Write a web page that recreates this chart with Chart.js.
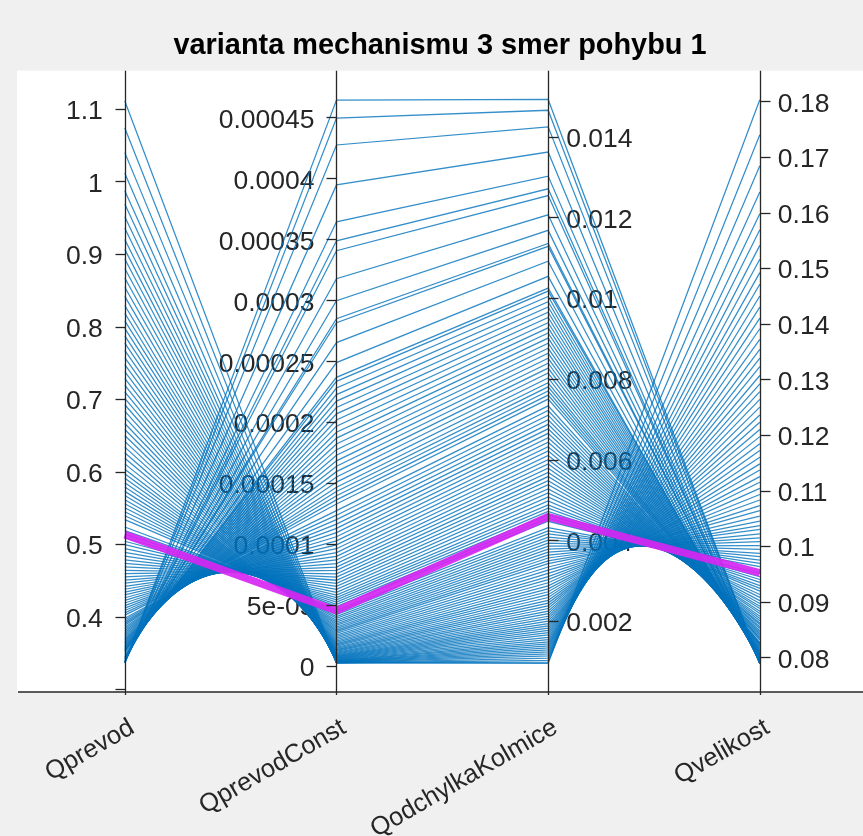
<!DOCTYPE html>
<html>
<head>
<meta charset="utf-8">
<title>varianta mechanismu 3 smer pohybu 1</title>
<style>
  html, body { margin: 0; padding: 0; background: #f0f0f0; }
  canvas { display: block; }
</style>
<script src="https://cdn.jsdelivr.net/npm/chart.js@4.4.1/dist/chart.umd.min.js"></script>
</head>
<body>
<canvas id="chart" width="863" height="836"></canvas>
<script>
// Coordinate (axis) names, left to right
const coordinateNames = ['Qprevod', 'QprevodConst', 'QodchylkaKolmice', 'Qvelikost'];

// One entry per solution; the same index in every array is one polyline
const qPrevod = [
  1.111, 1.0739, 1.0398, 1.0113, 0.9873, 0.9691, 0.9513, 0.9355, 0.9200, 0.9064,
  0.8931, 0.8799, 0.8669, 0.8541, 0.8415, 0.8290, 0.8183, 0.8078, 0.7974, 0.7871,
  0.7770, 0.7670, 0.7571, 0.7474, 0.7378, 0.7284, 0.7191, 0.7100, 0.7010, 0.6921,
  0.6833, 0.6747, 0.6662, 0.6579, 0.6497, 0.6416, 0.6337, 0.6258, 0.6182, 0.6106,
  0.6032, 0.5969, 0.5907, 0.5846, 0.5786, 0.5727, 0.5669, 0.5612, 0.5555, 0.5500,
  0.5445, 0.5391, 0.5338, 0.5235, 0.5185, 0.5135, 0.5087, 0.5039, 0.4992, 0.4938,
  0.4885, 0.4834, 0.4783, 0.4734, 0.4686, 0.4638, 0.4592, 0.4547, 0.4503, 0.4460,
  0.4418, 0.4377, 0.4337, 0.4298, 0.4260, 0.4223, 0.4187, 0.4151, 0.4117, 0.4084,
  0.4052, 0.4020, 0.3977, 0.3952, 0.3927, 0.3903, 0.3880, 0.3854, 0.3828, 0.3804,
  0.3780, 0.3757, 0.3734, 0.3713, 0.3692, 0.3673, 0.3653, 0.3635, 0.3617, 0.3600,
  0.3584, 0.3569, 0.3554, 0.3540, 0.3526, 0.3519, 0.3493, 0.3463, 0.3439, 0.3435,
  0.3417, 0.3401, 0.3385, 0.3380, 0.3373, 0.3365, 0.3361, 0.3360, 0.3360
];

const qPrevodConst = [
  2.50e-6, 2.51e-6, 2.57e-6, 2.68e-6, 2.84e-6, 2.99e-6, 3.19e-6, 3.40e-6, 3.64e-6, 3.89e-6,
  4.18e-6, 4.49e-6, 4.84e-6, 5.23e-6, 5.65e-6, 6.11e-6, 6.55e-6, 7.01e-6, 7.51e-6, 8.04e-6,
  8.61e-6, 9.21e-6, 9.85e-6, 1.052e-5, 1.123e-5, 1.197e-5, 1.275e-5, 1.358e-5, 1.444e-5, 1.534e-5,
  1.629e-5, 1.728e-5, 1.831e-5, 1.938e-5, 2.049e-5, 2.165e-5, 2.286e-5, 2.411e-5, 2.541e-5, 2.676e-5,
  2.816e-5, 2.939e-5, 3.066e-5, 3.197e-5, 3.331e-5, 3.469e-5, 3.611e-5, 3.756e-5, 3.906e-5, 4.060e-5,
  4.217e-5, 4.378e-5, 4.543e-5, 4.886e-5, 5.063e-5, 5.245e-5, 5.431e-5, 5.621e-5, 5.815e-5, 6.047e-5,
  6.285e-5, 6.529e-5, 6.779e-5, 7.036e-5, 7.297e-5, 7.566e-5, 7.840e-5, 8.120e-5, 8.408e-5, 8.701e-5,
  9.001e-5, 9.308e-5, 9.621e-5, 9.941e-5, 1.0268e-4, 1.0601e-4, 1.0941e-4, 1.1288e-4, 1.1642e-4, 1.2003e-4,
  1.2371e-4, 1.2746e-4, 1.3293e-4, 1.3630e-4, 1.3970e-4, 1.4317e-4, 1.4669e-4, 1.5086e-4, 1.5510e-4, 1.5942e-4,
  1.6381e-4, 1.6829e-4, 1.7284e-4, 1.7746e-4, 1.8216e-4, 1.8694e-4, 1.9179e-4, 1.9673e-4, 2.0174e-4, 2.0683e-4,
  2.1200e-4, 2.1726e-4, 2.2259e-4, 2.2801e-4, 2.3350e-4, 2.3677e-4, 2.4887e-4, 2.6525e-4, 2.8162e-4, 2.8490e-4,
  2.9966e-4, 3.1765e-4, 3.4059e-4, 3.4877e-4, 3.6431e-4, 3.9461e-4, 4.2735e-4, 4.4946e-4, 4.6417e-4
];

const qOdchylkaKolmice = [
  0.000950, 0.000976, 0.001024, 0.001078, 0.001133, 0.001180, 0.001231, 0.001280, 0.001331, 0.001380,
  0.001430, 0.001482, 0.001537, 0.001593, 0.001651, 0.001711, 0.001765, 0.001820, 0.001877, 0.001934,
  0.001993, 0.002054, 0.002115, 0.002178, 0.002242, 0.002307, 0.002374, 0.002441, 0.002510, 0.002579,
  0.002650, 0.002722, 0.002795, 0.002869, 0.002945, 0.003021, 0.003098, 0.003176, 0.003256, 0.003336,
  0.003417, 0.003488, 0.003559, 0.003631, 0.003704, 0.003777, 0.003851, 0.003926, 0.004001, 0.004078,
  0.004154, 0.004232, 0.004310, 0.004469, 0.004549, 0.004630, 0.004712, 0.004794, 0.004876, 0.004974,
  0.005072, 0.005171, 0.005272, 0.005373, 0.005474, 0.005577, 0.005680, 0.005784, 0.005890, 0.005995,
  0.006102, 0.006210, 0.006318, 0.006428, 0.006538, 0.006649, 0.006760, 0.006872, 0.006986, 0.007099,
  0.007214, 0.007330, 0.007496, 0.007597, 0.007698, 0.007800, 0.007902, 0.008022, 0.008143, 0.008264,
  0.008386, 0.008509, 0.008633, 0.008757, 0.008883, 0.009008, 0.009135, 0.009262, 0.009390, 0.009519,
  0.009649, 0.009779, 0.009910, 0.010041, 0.010174, 0.010249, 0.010538, 0.010914, 0.011283, 0.011356,
  0.011679, 0.012064, 0.012542, 0.012710, 0.013024, 0.013621, 0.014245, 0.014656, 0.014925
];

const qVelikost = [
  0.1803, 0.1740, 0.1684, 0.1637, 0.1598, 0.1569, 0.1541, 0.1516, 0.1492, 0.1471,
  0.1450, 0.1430, 0.1410, 0.1391, 0.1372, 0.1354, 0.1338, 0.1323, 0.1307, 0.1292,
  0.1278, 0.1264, 0.1250, 0.1236, 0.1223, 0.1210, 0.1197, 0.1184, 0.1172, 0.1160,
  0.1148, 0.1137, 0.1125, 0.1115, 0.1104, 0.1093, 0.1083, 0.1073, 0.1064, 0.1054,
  0.1045, 0.1037, 0.1030, 0.1022, 0.1015, 0.1008, 0.1001, 0.0994, 0.0987, 0.0981,
  0.0975, 0.0969, 0.0963, 0.0951, 0.0945, 0.0940, 0.0935, 0.0929, 0.0924, 0.0919,
  0.0913, 0.0908, 0.0902, 0.0897, 0.0892, 0.0888, 0.0883, 0.0879, 0.0874, 0.0870,
  0.0866, 0.0862, 0.0859, 0.0855, 0.0852, 0.0848, 0.0845, 0.0842, 0.0839, 0.0836,
  0.0834, 0.0831, 0.0827, 0.0825, 0.0824, 0.0822, 0.0820, 0.0818, 0.0816, 0.0814,
  0.0812, 0.0811, 0.0809, 0.0808, 0.0806, 0.0805, 0.0804, 0.0803, 0.0801, 0.0800,
  0.0799, 0.0799, 0.0798, 0.0797, 0.0796, 0.0796, 0.0794, 0.0793, 0.0792, 0.0792,
  0.0791, 0.0790, 0.0790, 0.0789, 0.0789, 0.0789, 0.0789, 0.0789, 0.0789
];

// The selected solution, drawn on top in magenta
const selectedSolution = [0.513, 4.53e-5, 0.00458, 0.0952];

// Tick values and their labels for each coordinate
const ticksPrevod = [0.3, 0.4, 0.5, 0.6, 0.7, 0.8, 0.9, 1.0, 1.1];
const tickLabelsPrevod = ['', '0.4', '0.5', '0.6', '0.7', '0.8', '0.9', '1', '1.1'];
const ticksPrevodConst = [0, 5e-5, 1e-4, 1.5e-4, 2e-4, 2.5e-4, 3e-4, 3.5e-4, 4e-4, 4.5e-4];
const tickLabelsPrevodConst = ['0', '5e-05', '0.0001', '0.00015', '0.0002', '0.00025', '0.0003', '0.00035', '0.0004', '0.00045'];
const ticksOdchylka = [0.002, 0.004, 0.006, 0.008, 0.01, 0.012, 0.014];
const tickLabelsOdchylka = ['0.002', '0.004', '0.006', '0.008', '0.01', '0.012', '0.014'];
const ticksVelikost = [0.08, 0.09, 0.10, 0.11, 0.12, 0.13, 0.14, 0.15, 0.16, 0.17, 0.18];
const tickLabelsVelikost = ['0.08', '0.09', '0.1', '0.11', '0.12', '0.13', '0.14', '0.15', '0.16', '0.17', '0.18'];

// One vertical scale per coordinate
const coordinateAxes = [
  { id: 'yPrevod',      min: 0.2960,    max: 1.1528,    ticks: ticksPrevod,      labels: tickLabelsPrevod,      side: 'left'  },
  { id: 'yPrevodConst', min: -2.130e-5, max: 4.8828e-4, ticks: ticksPrevodConst, labels: tickLabelsPrevodConst, side: 'left'  },
  { id: 'yOdchylka',    min: 0.0002377, max: 0.015637,  ticks: ticksOdchylka,    labels: tickLabelsOdchylka,    side: 'right' },
  { id: 'yVelikost',    min: 0.07377,   max: 0.18552,   ticks: ticksVelikost,    labels: tickLabelsVelikost,    side: 'right' }
];

const columns = [qPrevod, qPrevodConst, qOdchylkaKolmice, qVelikost];

// Every coordinate is drawn on a shared 0..1 scale, aligned with its own axis range
function toUnit(value, k) {
  const a = coordinateAxes[k];
  return (value - a.min) / (a.max - a.min);
}

const datasets = [];
for (let i = 0; i < qPrevod.length; i++) {
  datasets.push({
    data: columns.map((col, k) => ({ x: k, y: toUnit(col[i], k) })),
    borderColor: 'rgba(0, 114, 189, 0.8)',
    borderWidth: 1.25,
    pointRadius: 0,
    yAxisID: 'yUnit',
    order: 1
  });
}
datasets.push({
  data: selectedSolution.map((v, k) => ({ x: k, y: toUnit(v, k) })),
  borderColor: 'rgba(214, 38, 242, 0.92)',
  borderWidth: 7.5,
  pointRadius: 0,
  yAxisID: 'yUnit',
  order: 0
});

const AXIS_COLOR = '#262626';
const FONT_FAMILY = '"Liberation Sans", Arial, Helvetica, sans-serif';

const parallelAxes = {
  id: 'parallelAxes',
  beforeDraw(chart) {
    const { ctx, chartArea: ca } = chart;
    ctx.save();
    ctx.fillStyle = '#f0f0f0';
    ctx.fillRect(0, 0, chart.width, chart.height);
    ctx.fillStyle = '#ffffff';
    ctx.fillRect(ca.left, ca.top, ca.right - ca.left, ca.bottom - ca.top);
    ctx.restore();
  },
  beforeDatasetsDraw(chart) {
    const { ctx } = chart;
    const xScale = chart.scales.x;
    ctx.save();
    ctx.font = '26.5px ' + FONT_FAMILY;
    ctx.fillStyle = AXIS_COLOR;
    ctx.textBaseline = 'middle';
    coordinateAxes.forEach((a, k) => {
      const scale = chart.scales[a.id];
      const ax = xScale.getPixelForValue(k);
      ctx.textAlign = a.side === 'left' ? 'right' : 'left';
      const lx = a.side === 'left' ? ax - 22 : ax + 18;
      a.ticks.forEach((t, j) => {
        if (!a.labels[j]) return;
        ctx.fillText(a.labels[j], lx, scale.getPixelForValue(t) + 3);
      });
    });
    ctx.restore();
  },
  afterDatasetsDraw(chart) {
    const { ctx, chartArea: ca } = chart;
    const xScale = chart.scales.x;
    ctx.save();
    ctx.strokeStyle = AXIS_COLOR;
    ctx.lineWidth = 1.3;
    // bottom edge of the axes box
    ctx.beginPath();
    ctx.moveTo(ca.left + 1, ca.bottom);
    ctx.lineTo(ca.right, ca.bottom);
    ctx.stroke();
    coordinateAxes.forEach((a, k) => {
      const scale = chart.scales[a.id];
      const ax = Math.round(xScale.getPixelForValue(k)) + 0.5;
      ctx.beginPath();
      ctx.moveTo(ax, ca.top);
      ctx.lineTo(ax, ca.bottom + 3);
      ctx.stroke();
      const dir = a.side === 'left' ? -1 : 1;
      a.ticks.forEach((t) => {
        const y = Math.round(scale.getPixelForValue(t)) + 0.5;
        ctx.beginPath();
        ctx.moveTo(ax, y);
        ctx.lineTo(ax + dir * 10, y);
        ctx.stroke();
      });
    });
    // rotated coordinate names under the axes
    ctx.font = '25.5px ' + FONT_FAMILY;
    ctx.fillStyle = AXIS_COLOR;
    ctx.textAlign = 'right';
    ctx.textBaseline = 'alphabetic';
    coordinateNames.forEach((name, k) => {
      const ax = xScale.getPixelForValue(k);
      ctx.save();
      ctx.translate(ax + 11, ca.bottom + 40);
      ctx.rotate(-30 * Math.PI / 180);
      ctx.fillText(name, 0, 0);
      ctx.restore();
    });
    ctx.restore();
  }
};

const scales = {
  x: { type: 'linear', min: -0.5093, max: 3.4875, display: false },
  yUnit: { type: 'linear', min: 0, max: 1, display: false, bounds: 'data' }
};
coordinateAxes.forEach((a) => {
  scales[a.id] = { type: 'linear', position: 'left', min: a.min, max: a.max, display: false, bounds: 'data' };
});

new Chart(document.getElementById('chart'), {
  type: 'line',
  data: { datasets },
  options: {
    responsive: false,
    devicePixelRatio: 1,
    animation: false,
    events: [],
    layout: { padding: { left: 17, right: 0, top: 0, bottom: 144 } },
    elements: { line: { tension: 0, borderCapStyle: 'butt', borderJoinStyle: 'miter' } },
    scales,
    plugins: {
      legend: { display: false },
      tooltip: { enabled: false },
      title: {
        display: true,
        fullSize: false,
        text: 'varianta mechanismu 3 smer pohybu 1',
        color: '#000000',
        font: { family: FONT_FAMILY, size: 28.9, weight: 'bold' },
        padding: { top: 29, bottom: 7 }
      }
    }
  },
  plugins: [parallelAxes]
});
</script>
</body>
</html>
